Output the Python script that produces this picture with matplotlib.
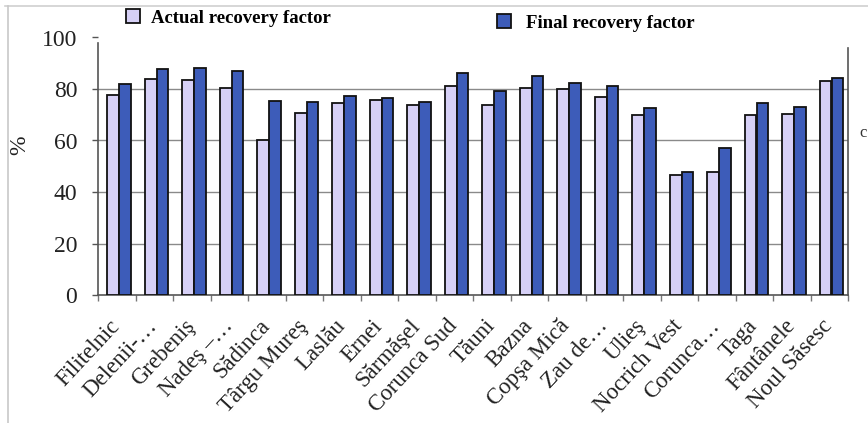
import matplotlib
matplotlib.use("Agg")
import matplotlib.pyplot as plt
import numpy as np
from matplotlib.lines import Line2D

fields = ["Filitelnic", "Delenii-…", "Grebeniş", "Nadeş –…", "Sădinca",
          "Târgu Mureş", "Laslău", "Ernei", "Sărmăşel", "Corunca Sud",
          "Tăuni", "Bazna", "Copşa Mică", "Zau de…", "Ulieş",
          "Nocrich Vest", "Corunca…", "Taga", "Fântânele", "Noul Săsesc"]
actual_rf = [77.5, 84, 83.5, 80.5, 60.2, 70.8, 74.7, 75.7, 73.8, 81,
             73.8, 80.3, 80, 76.8, 69.9, 46.7, 47.8, 69.9, 70.3, 83.1]
final_rf = [82, 87.6, 88.3, 87, 75.2, 75.1, 77.2, 76.6, 74.8, 86.3,
            79.1, 85.2, 82.2, 81.3, 72.6, 47.8, 57.2, 74.4, 73.1, 84.1]
y_ticks = [0, 20, 40, 60, 80, 100]

W, H = 868, 423
fig = plt.figure(figsize=(W / 100, H / 100), dpi=100)
ax = fig.add_axes([98 / W, 1 - 295 / H, 750 / W, (295 - 37.5) / H])

serif = ["Liberation Serif", "DejaVu Serif"]
c_actual = "#d6d0f6"
c_final = "#3d5cb9"

x = np.arange(len(fields))
bw = 0.31
off = 0.06
b1 = ax.bar(x + off - bw / 2, actual_rf, bw, color=c_actual, edgecolor="#111111",
            linewidth=1.3, zorder=3)
b2 = ax.bar(x + off + bw / 2, final_rf, bw, color=c_final, edgecolor="#111111",
            linewidth=1.3, zorder=3)

ax.set_xlim(-0.5, len(fields) - 0.5)
ax.set_ylim(0, 100)

# grid only at interior levels
for v in y_ticks[1:-1]:
    ax.axhline(v, color="#8a8a8a", linewidth=1.0, zorder=1)

ax.spines["top"].set_visible(False)
ax.spines["left"].set_bounds(0, 98)
ax.spines["right"].set_bounds(0, 96)
for s in ("left", "right", "bottom"):
    ax.spines[s].set_color("#555555")
    ax.spines[s].set_linewidth(1.2)

ax.set_yticks(y_ticks)
ax.set_yticklabels([str(v) for v in y_ticks], family=serif, fontsize=17, color="#222222")
ax.tick_params(axis="y", length=4, width=1, color="#555555", pad=11)

ax.set_xticks(x)
ax.set_xticklabels(fields, family=serif, fontsize=16.5, color="#222222",
                   rotation=47, ha="right", va="center", rotation_mode="anchor")
ax.tick_params(axis="x", which="major", length=0, pad=20)
ax.set_xticks(np.arange(-0.5, len(fields)), minor=True)
ax.tick_params(axis="x", which="minor", length=4, width=1, color="#777777")

fig.text(20 / W, 1 - 145 / H, "%", family=serif, fontsize=17, color="#222222",
         rotation=90, ha="center", va="center")

# legend entries
leg1 = ax.legend([b1], ["Actual recovery factor"], loc="center left",
                 bbox_to_anchor=(126 / W, 1 - 18 / H), bbox_transform=fig.transFigure,
                 frameon=False, prop={"family": serif, "weight": "bold", "size": 13.5},
                 handlelength=0.75, handleheight=0.75, handletextpad=0.6,
                 borderpad=0, borderaxespad=0)
ax.add_artist(leg1)
ax.legend([b2], ["Final recovery factor"], loc="center left",
          bbox_to_anchor=(497 / W, 1 - 23 / H), bbox_transform=fig.transFigure,
          frameon=False, prop={"family": serif, "weight": "bold", "size": 13.5},
          handlelength=0.75, handleheight=0.75, handletextpad=0.8,
          borderpad=0, borderaxespad=0)

fig.text(859 / W, 1 - 133 / H, "c", family=serif, fontsize=12, color="#333333",
         va="center", ha="left")

# outer frame
fig.add_artist(Line2D([5 / W, 1], [1 - 6 / H, 1 - 6 / H], transform=fig.transFigure,
                      color="#d0d0d0", linewidth=1.2))
fig.add_artist(Line2D([8 / W, 8 / W], [0, 1 - 6 / H], transform=fig.transFigure,
                      color="#c8c8c8", linewidth=1.2))

fig.savefig("out.png", dpi=100)
